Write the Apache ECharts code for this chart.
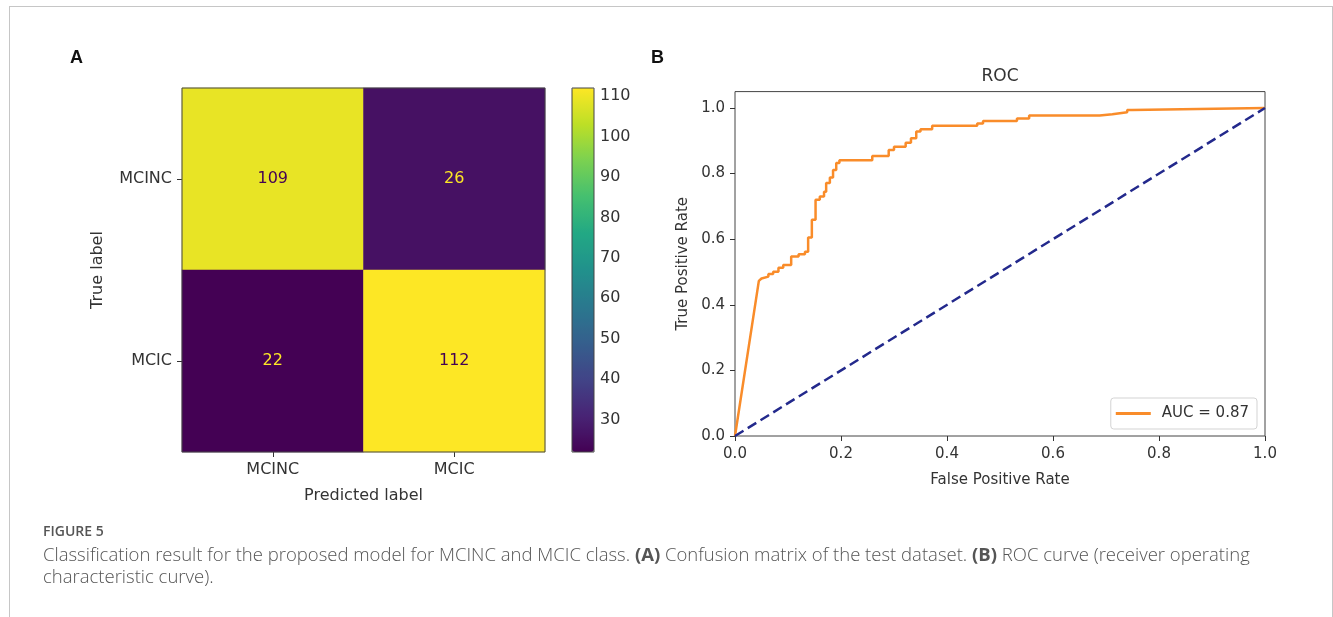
<!DOCTYPE html>
<html>
<head>
<meta charset="utf-8">
<script src="https://cdn.jsdelivr.net/npm/echarts@6/dist/echarts.min.js"></script>
<style>
html,body{margin:0;padding:0;background:#fff;overflow:hidden;}
#frame{position:absolute;left:9px;top:6px;width:1322px;height:640px;border:1px solid #c6c6c6;border-bottom:none;}
#fig{position:absolute;left:0;top:0;width:1333px;height:617px;}
</style>
</head>
<body>
<div id="frame"></div>
<div id="fig"></div>
<script>
// confusion matrix (rows = true label, cols = predicted label)
var cmRows = ['MCINC', 'MCIC'];
var cmCols = ['MCINC', 'MCIC'];
var cmValues = [
  [109, 26],
  [22, 112]
];
var cbTicks = [30, 40, 50, 60, 70, 80, 90, 100, 110];

// ROC curve corners
var rocFpr = [0, 0.045, 0.05, 0.053, 0.063, 0.063, 0.072, 0.072, 0.082, 0.082, 0.091, 0.091,
  0.106, 0.106, 0.12, 0.12, 0.132, 0.132, 0.138, 0.138, 0.145, 0.145, 0.152, 0.152,
  0.16, 0.16, 0.168, 0.168, 0.172, 0.172, 0.179, 0.179, 0.185, 0.185, 0.191, 0.191,
  0.197, 0.197, 0.259, 0.259, 0.29, 0.29, 0.3, 0.3, 0.322, 0.322, 0.332, 0.332,
  0.342, 0.342, 0.35, 0.35, 0.372, 0.372, 0.457, 0.457, 0.468, 0.468, 0.532, 0.532,
  0.555, 0.555, 0.688, 0.688, 0.712, 0.712, 0.74, 0.74, 0.749, 0.749, 1];
var rocTpr = [0, 0.473, 0.48, 0.486, 0.486, 0.494, 0.494, 0.501, 0.501, 0.513, 0.513, 0.521,
  0.521, 0.547, 0.547, 0.554, 0.554, 0.562, 0.562, 0.605, 0.605, 0.659, 0.659, 0.72,
  0.72, 0.73, 0.73, 0.745, 0.745, 0.771, 0.771, 0.788, 0.788, 0.811, 0.811, 0.832,
  0.832, 0.841, 0.841, 0.854, 0.854, 0.872, 0.872, 0.882, 0.882, 0.894, 0.894, 0.908,
  0.908, 0.928, 0.928, 0.935, 0.935, 0.946, 0.946, 0.953, 0.953, 0.96, 0.96, 0.968,
  0.968, 0.977, 0.977, 0.981, 0.981, 0.987, 0.987, 0.994, 0.994, 1, 1];
var chanceX = [0, 1];
var chanceY = [0, 1];
var rocTicks = [0, 0.2, 0.4, 0.6, 0.8, 1.0];
var aucLabel = 'AUC = 0.87';

var viridis = ['#440154', '#482475', '#414487', '#355f8d', '#2a788e', '#21918c',
  '#22a884', '#44bf70', '#7ad151', '#bddf26', '#fde725'];

var flat = [].concat.apply([], cmValues);
var cmMin = Math.min.apply(null, flat);
var cmMax = Math.max.apply(null, flat);

var cmData = [];
cmValues.forEach(function (row, i) {
  row.forEach(function (v, j) {
    cmData.push({
      value: [j, i, v],
      label: { color: v > (cmMin + cmMax) / 2 ? viridis[0] : viridis[10] }
    });
  });
});
var rocData = rocFpr.map(function (x, i) { return [x, rocTpr[i]]; });
var chanceData = chanceX.map(function (x, i) { return [x, chanceY[i]]; });

var font = 'DejaVu Sans';
var ink = '#333';

var myChart = echarts.init(document.getElementById('fig'));
myChart.setOption({
  animation: false,
  grid: [
    { left: 182, top: 88, width: 363, height: 364, show: true, borderColor: '#444', borderWidth: 1, z: 5 },
    { left: 735, top: 91.6, width: 530, height: 344.4, show: true, borderColor: '#444', borderWidth: 1 },
    { left: 572, top: 88, width: 22, height: 364, show: true, borderColor: '#444', borderWidth: 1, z: 10 }
  ],
  xAxis: [
    {
      gridIndex: 0, type: 'category', data: cmCols,
      name: 'Predicted label', nameLocation: 'middle', nameGap: 36,
      nameTextStyle: { fontFamily: font, fontSize: 16, color: ink },
      axisLine: { show: false },
      axisTick: { show: true, alignWithLabel: true, length: 5, lineStyle: { color: ink } },
      axisLabel: { fontFamily: font, fontSize: 16, color: ink, margin: 10 },
      splitLine: { show: false }
    },
    {
      gridIndex: 1, type: 'value', min: 0, max: 1, interval: 0.2,
      name: 'False Positive Rate', nameLocation: 'middle', nameGap: 37,
      nameTextStyle: { fontFamily: font, fontSize: 15, color: ink },
      axisLine: { show: false },
      axisTick: { show: true, length: 5, lineStyle: { color: ink } },
      axisLabel: { fontFamily: font, fontSize: 15, color: ink, margin: 11,
        formatter: function (v) { return v.toFixed(1); } },
      splitLine: { show: false }
    },
    { gridIndex: 2, type: 'value', show: false }
  ],
  yAxis: [
    {
      gridIndex: 0, type: 'category', data: cmRows, inverse: true,
      name: 'True label', nameLocation: 'middle', nameGap: 76,
      nameTextStyle: { fontFamily: font, fontSize: 16, color: ink },
      axisLine: { show: false },
      axisTick: { show: true, alignWithLabel: true, length: 5, lineStyle: { color: ink } },
      axisLabel: { fontFamily: font, fontSize: 16, color: ink, margin: 10 },
      splitLine: { show: false }
    },
    {
      gridIndex: 1, type: 'value', min: 0, max: 1.05,
      name: 'True Positive Rate', nameLocation: 'middle', nameGap: 44,
      nameTextStyle: { fontFamily: font, fontSize: 15, color: ink },
      axisLine: { show: false },
      axisTick: { show: true, length: 5, customValues: rocTicks, lineStyle: { color: ink } },
      axisLabel: { fontFamily: font, fontSize: 15, color: ink, margin: 10, customValues: rocTicks,
        formatter: function (v) { return v.toFixed(1); } },
      splitLine: { show: false }
    },
    {
      gridIndex: 2, type: 'value', min: cmMin, max: cmMax, position: 'right',
      axisLine: { show: false },
      axisTick: { show: true, length: 4, customValues: cbTicks, lineStyle: { color: ink } },
      axisLabel: { fontFamily: font, fontSize: 16, color: ink, margin: 6, customValues: cbTicks },
      splitLine: { show: false }
    }
  ],
  visualMap: {
    type: 'continuous', seriesIndex: 0, min: cmMin, max: cmMax,
    calculable: false, orient: 'vertical', left: 572, top: 88,
    itemWidth: 22, itemHeight: 364, padding: 0, hoverLink: false,
    inRange: { color: viridis }
  },
  legend: {
    data: [aucLabel], right: 76, top: 398,
    padding: [8, 8, 8, 5], itemWidth: 35, itemHeight: 3, icon: 'rect',
    backgroundColor: '#fff', borderColor: '#d3d3d3', borderWidth: 1, borderRadius: 3,
    textStyle: { fontFamily: font, fontSize: 15, color: ink, padding: [0, 0, 0, 6] }
  },
  series: [
    {
      type: 'heatmap', xAxisIndex: 0, yAxisIndex: 0, data: cmData,
      label: { show: true, fontFamily: font, fontSize: 16,
        formatter: function (p) { return p.value[2]; } },
      emphasis: { disabled: true }
    },
    {
      name: aucLabel, type: 'line', xAxisIndex: 1, yAxisIndex: 1, data: rocData,
      symbol: 'none', color: '#f98c2a', lineStyle: { color: '#f98c2a', width: 2.5 }, z: 3
    },
    {
      type: 'line', xAxisIndex: 1, yAxisIndex: 1, data: chanceData,
      symbol: 'none', lineStyle: { color: '#23298c', width: 2.5, type: [10, 5] }, z: 4
    }
  ],
  graphic: [
    { type: 'text', left: 70, top: 49, style: { text: 'A', font: 'bold 18px "Liberation Sans"', fill: '#111' } },
    { type: 'text', left: 651, top: 49, style: { text: 'B', font: 'bold 18px "Liberation Sans"', fill: '#111' } },
    { type: 'text', x: 1000, y: 77, style: { text: 'ROC', font: '17px "DejaVu Sans"', fill: ink, align: 'center', verticalAlign: 'middle' } },
    { type: 'text', left: 43, top: 525, style: { text: 'FIGURE 5', font: '600 14px "Open Sans"', fill: '#555' } },
    {
      type: 'text', left: 43, top: 545,
      style: {
        text: 'Classification result for the proposed model for MCINC and MCIC class. {b|(A)} Confusion matrix of the test dataset. {b|(B)} ROC curve (receiver operating\ncharacteristic curve).',
        font: '300 18.5px "Open Sans"', fill: '#555', lineHeight: 22,
        rich: { b: { font: '700 18.5px "Open Sans"', fill: '#555' } }
      }
    }
  ]
});
</script>
</body>
</html>
